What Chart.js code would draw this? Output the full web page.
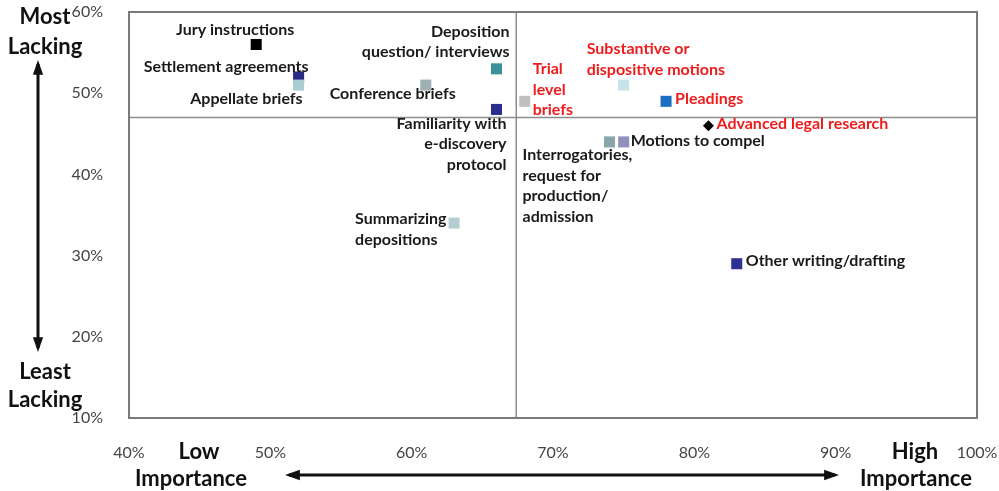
<!DOCTYPE html>
<html>
<head>
<meta charset="utf-8">
<script src="https://cdn.jsdelivr.net/npm/chart.js@4"></script>
<style>
  html, body { margin: 0; padding: 0; background: #fff; }
  #wrap { width: 999px; height: 491px; position: relative; }
</style>
</head>
<body>
<div id="wrap"><canvas id="quad"></canvas></div>
<script>
// skills, importance (x) and how often lacking (y), in percent
const skills = [
  'Jury instructions', 'Settlement agreements', 'Appellate briefs', 'Conference briefs',
  'Deposition question/ interviews', 'Familiarity with e-discovery protocol', 'Trial level briefs',
  'Substantive or dispositive motions', 'Pleadings', 'Advanced legal research',
  'Interrogatories, request for production/ admission', 'Motions to compel',
  'Summarizing depositions', 'Other writing/drafting'
];
const importance = [49, 52, 52, 61, 66, 66, 68, 75, 78, 81, 74, 75, 63, 83];
const lacking    = [56, 52, 51, 51, 53, 48, 49, 51, 49, 46, 44, 44, 34, 29];
const xTicks = [40, 50, 60, 70, 80, 90, 100];
const yTicks = [10, 20, 30, 40, 50, 60];
const splitX = 67.4;   // quadrant divider on importance
const splitY = 47;     // quadrant divider on lacking

// styling
const markColors = ['#000000', '#2a2a85', '#a9cdd0', '#9fb0b2', '#3a9199', '#2d2d8f', '#c0c0c0',
  '#c5e4e8', '#1a6fc0', '#000000', '#86a6a7', '#9191bb', '#b5cdd0', '#2e3192'];
const markShapes = skills.map((s, i) => i === 9 ? 'rectRot' : 'rect');
const markSizes = skills.map((s, i) => i === 9 ? 5.5 : 7.8);
const red = '#ee1c1c', ink = '#1a1a1a';
// label lines, alignment and offset from the point
const labelLayout = [
  { lines: ['Jury instructions'], align: 'center', dx: -21, dy: -15, color: ink },
  { lines: ['Settlement agreements'], align: 'right', dx: 10, dy: -10, color: ink },
  { lines: ['Appellate briefs'], align: 'right', dx: 4, dy: 14, color: ink },
  { lines: ['Conference briefs'], align: 'right', dx: 30, dy: 9, color: ink },
  { lines: ['Deposition', 'question/ interviews'], align: 'right', dx: 13, dy: -37, color: ink },
  { lines: ['Familiarity with', 'e-discovery', 'protocol'], align: 'right', dx: 10, dy: 14, color: ink },
  { lines: ['Trial', 'level', 'briefs'], align: 'left', dx: 8, dy: -32, color: red },
  { lines: ['Substantive or', 'dispositive motions'], align: 'left', dx: -37, dy: -36, color: red },
  { lines: ['Pleadings'], align: 'left', dx: 9, dy: -2, color: red },
  { lines: ['Advanced legal research'], align: 'left', dx: 8, dy: -2, color: red },
  { lines: ['Interrogatories,', 'request for', 'production/', 'admission'], align: 'left', dx: -87, dy: 13, color: ink },
  { lines: ['Motions to compel'], align: 'left', dx: 7, dy: -1, color: ink },
  { lines: ['Summarizing', 'depositions'], align: 'left', dx: -99, dy: -4, color: ink },
  { lines: ['Other writing/drafting'], align: 'left', dx: 9, dy: -3, color: ink }
];

const noOverflow = s => {
  s.paddingTop = 0; s.paddingBottom = 0; s.paddingLeft = 0; s.paddingRight = 0;
};

const frame = {
  id: 'frame',
  beforeDatasetsDraw(chart) {
    const { ctx, chartArea: a, scales: { x, y } } = chart;
    ctx.save();
    ctx.strokeStyle = '#8c8c8c';
    ctx.lineWidth = 1.5;
    const px = x.getPixelForValue(splitX), py = y.getPixelForValue(splitY);
    ctx.beginPath();
    ctx.moveTo(px, a.top); ctx.lineTo(px, a.bottom);
    ctx.moveTo(a.left, py); ctx.lineTo(a.right, py);
    ctx.stroke();
    ctx.strokeStyle = '#7a7a7a';
    ctx.lineWidth = 2;
    ctx.strokeRect(a.left, a.top, a.right - a.left, a.bottom - a.top);
    ctx.restore();
  },
  afterDatasetsDraw(chart) {
    const { ctx } = chart;
    const pts = chart.getDatasetMeta(0).data;
    ctx.save();
    ctx.font = 'bold 16px Lato';
    ctx.textBaseline = 'middle';
    pts.forEach((p, i) => {
      const l = labelLayout[i];
      ctx.fillStyle = l.color;
      ctx.textAlign = l.align;
      l.lines.forEach((t, k) => ctx.fillText(t, p.x + l.dx, p.y + l.dy + k * 20.5));
    });
    ctx.restore();
  },
  afterDraw(chart) {
    const { ctx } = chart;
    ctx.save();
    ctx.fillStyle = '#111';
    ctx.strokeStyle = '#111';
    ctx.font = 'bold 22px Lato';
    ctx.textAlign = 'center';
    ctx.textBaseline = 'middle';
    ctx.fillText('Most', 45, 17);
    ctx.fillText('Lacking', 45, 47);
    ctx.fillText('Least', 45, 372);
    ctx.fillText('Lacking', 45, 400);
    ctx.fillText('Low', 199, 452);
    ctx.fillText('Importance', 191, 479);
    ctx.fillText('High', 915, 452);
    ctx.fillText('Importance', 916, 479);
    const arrow = (x1, y1, x2, y2) => {
      const ang = Math.atan2(y2 - y1, x2 - x1);
      ctx.lineWidth = 3;
      ctx.beginPath();
      ctx.moveTo(x1, y1); ctx.lineTo(x2, y2);
      ctx.stroke();
      [[x1, y1, ang + Math.PI], [x2, y2, ang]].forEach(([hx, hy, r]) => {
        ctx.beginPath();
        ctx.moveTo(hx + Math.cos(r) * 4, hy + Math.sin(r) * 4);
        ctx.lineTo(hx + Math.cos(r + 2.7) * 12, hy + Math.sin(r + 2.7) * 12);
        ctx.lineTo(hx + Math.cos(r - 2.7) * 12, hy + Math.sin(r - 2.7) * 12);
        ctx.closePath();
        ctx.fill();
      });
    };
    arrow(38, 64, 38, 348);
    arrow(289, 475, 835, 475);
    ctx.restore();
  }
};

new Chart(document.getElementById('quad'), {
  type: 'scatter',
  data: {
    datasets: [{
      data: skills.map((s, i) => ({ x: importance[i], y: lacking[i] })),
      pointBackgroundColor: markColors,
      pointBorderWidth: 0,
      pointStyle: markShapes,
      pointRadius: markSizes
    }]
  },
  options: {
    responsive: true,
    maintainAspectRatio: false,
    animation: false,
    layout: { padding: { top: 12, right: 22, left: 0, bottom: 0 } },
    plugins: { legend: { display: false }, tooltip: { enabled: false } },
    scales: {
      x: {
        min: 40, max: 100,
        afterBuildTicks: s => { s.ticks = xTicks.map(v => ({ value: v })); },
        afterFit: s => { s.height = 73; noOverflow(s); },
        grid: { display: false },
        border: { display: false },
        ticks: { color: '#444', padding: 17, font: { family: 'Lato', size: 16 }, callback: v => v + '%' }
      },
      y: {
        min: 10, max: 60,
        afterBuildTicks: s => { s.ticks = yTicks.map(v => ({ value: v })); },
        afterFit: s => { s.width = 129; noOverflow(s); },
        grid: { display: false },
        border: { display: false },
        ticks: { color: '#444', padding: 18, font: { family: 'Lato', size: 16 }, callback: v => v + '%' }
      }
    }
  },
  plugins: [frame]
});
</script>
</body>
</html>
